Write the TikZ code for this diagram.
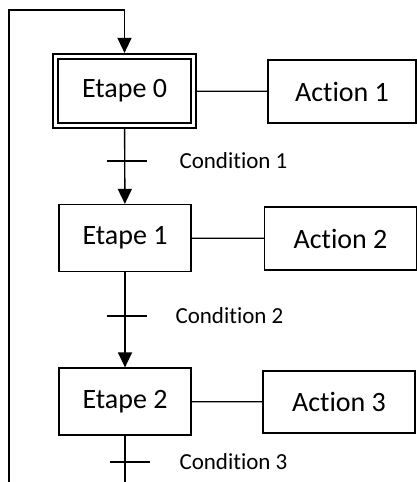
\documentclass[tikz,border=0pt]{standalone}
\usepackage{fontspec}
\setmainfont{Carlito}[Ligatures={NoCommon}, Contextuals={NoAlternate}]
\usetikzlibrary{arrows.meta,positioning,fit,calc}

\begin{document}
\begin{tikzpicture}[x=1pt, y=-1pt,
  every node/.style={font=\fontsize{28}{32}\selectfont},
  etape/.style={draw, line width=1.2pt, minimum width=132pt, minimum height=67pt, inner sep=0pt},
  action/.style={draw, line width=1.2pt, minimum width=150pt, minimum height=63pt, inner sep=0pt},
  cond/.style={anchor=west, font=\fontsize{23}{26}\selectfont},
  tick/.style={minimum width=40pt, minimum height=0pt, inner sep=0pt},
  arrow/.style={-{Triangle[length=15pt, width=14pt]}, line width=1.4pt},
  link/.style={line width=1.2pt}
]
\useasboundingbox (0,0) rectangle (417,482);

% etapes
\node[etape, minimum width=133pt, minimum height=64pt] (e0) at (124.5,91) {Etape 0};
\node[draw, line width=2pt, fit=(e0), inner sep=4.5pt] (e0out) {};
\node[etape] (e1) at (125,238) {Etape 1};
\node[etape] (e2) at (125,401.5) {Etape 2};

% actions
\node[action, minimum width=148pt] (a1) at (342,91.5) {Action 1};
\node[action, minimum width=152pt] (a2) at (340.5,238.5) {Action 2};
\node[action, minimum width=152pt, minimum height=62pt, line width=2pt] (a3) at (339,402) {Action 3};

\draw[link] (e0out) -- (a1);
\draw[link] (e1) -- (a2);
\draw[link] (e2) -- (a3);

% transitions
\node[tick] (t1) at (127,161) {};
\node[tick] (t2) at (127,316) {};
\node[tick] (t3) at (130,462) {};
\draw[link] (t1.west) -- (t1.east);
\draw[link] (t2.west) -- (t2.east);
\draw[link] (t3.west) -- (t3.east);
\node[cond] (c1) at (176,161) {Condition 1};
\node[cond] (c2) at (172,316) {Condition 2};
\node[cond] (c3) at (176,462) {Condition 3};

\draw[arrow] (e0out) -- (e1);
\draw[arrow] (e1) -- (e2);

% retour vers l'etape initiale
\coordinate (fin) at (125,482);
\draw[link] (e2) -- (fin);
\coordinate (rb) at (9,482);
\coordinate (rt) at (9,10);
\draw[arrow] (rb) -- (rt) -| (e0out.north);
\end{tikzpicture}
\end{document}
